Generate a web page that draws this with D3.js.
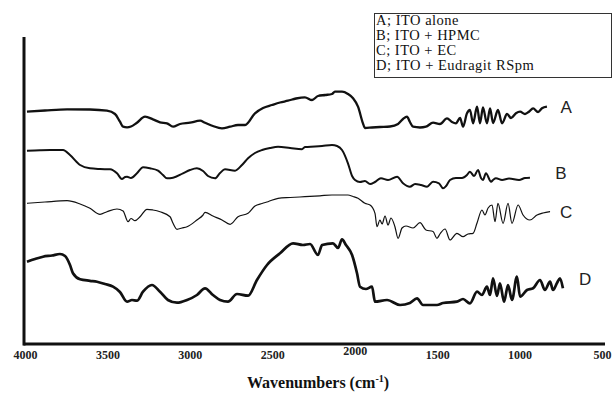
<!DOCTYPE html>
<html>
<head>
<meta charset="utf-8">
<script src="https://cdn.jsdelivr.net/npm/d3@7"></script>
<style>
  html, body { margin: 0; padding: 0; background: #fff; }
  svg { display: block; }
</style>
</head>
<body>
<div id="chart"></div>
<script>
// ---- data (wavenumber cm-1, transmittance in arbitrary units, traces stacked with offsets) ----
const xTicks = [4000, 3500, 3000, 2500, 2000, 1500, 1000, 500];
const seriesNames = ["A", "B", "C", "D"];
const legendLabels = ["A; ITO alone", "B; ITO + HPMC", "C; ITO + EC", "D; ITO + Eudragit RSpm"];
const xTitle = "Wavenumbers (cm";
const xTitleSup = "-1";

const specA = [
  [3988,232.3],[3879,233.5],[3745,234.7],[3606,234.5],[3503,233.3],[3454,230],[3424,222.3],[3405,217.3],
  [3381,216.7],[3357,217.5],[3321,221.3],[3272,227.3],[3224,224.7],[3181,221.7],[3139,220.7],[3102,217.3],
  [3060,220],[2999,221.3],[2938,223.3],[2908,221.3],[2860,218],[2805,215.7],[2756,217.3],[2708,219],
  [2665,219],[2605,230.7],[2556,236],[2502,239],[2453,241.5],[2405,243.3],[2356,245.5],[2302,246.7],
  [2259,244],[2223,248],[2180,249],[2138,250],[2120,252.3],[2077,252.3],[2041,250],[2010,245.7],
  [1980,237.3],[1950,220.7],[1938,216],[1895,216.5],[1847,217],[1786,217.5],[1737,220],[1707,225],
  [1683,227.3],[1665,222],[1646,217.3],[1604,216.5],[1568,217.3],[1525,221.3],[1483,220],[1440,225.7],
  [1410,222],[1386,220.7],[1361,226],[1343,217.3],[1319,230.7],[1301,234],[1282,220.7],[1258,237.3],
  [1240,220.7],[1222,236.5],[1198,220.7],[1179,235.7],[1161,221],[1131,234],[1106,220.7],[1076,230],
  [1052,226],[1022,230.7],[997,232.3],[967,230],[943,232.3],[918,235.7],[888,232],[864,235.7],[834,237.3]
];
const specB = [
  [3988,193.3],[3909,193.8],[3848,194],[3769,194],[3727,189],[3666,179],[3606,175.7],[3545,175],
  [3484,174.7],[3442,170.7],[3412,165],[3393,167],[3381,167.3],[3357,166],[3321,170.7],[3284,176.7],
  [3242,175.7],[3193,173.3],[3163,169],[3139,165.7],[3102,166.3],[3042,170.7],[2999,174],[2957,175.7],
  [2920,173],[2890,168],[2847,165.7],[2817,171],[2787,174.7],[2726,173.3],[2684,179],[2647,185.7],
  [2605,191],[2562,194],[2514,196],[2465,197.3],[2392,196],[2320,194.7],[2302,197],[2241,197.5],
  [2198,198],[2138,199],[2107,198],[2077,194],[2041,180.7],[2016,168],[1998,164],[1968,162],
  [1938,163],[1907,160],[1877,162],[1841,165.7],[1798,164],[1743,167.3],[1707,160.7],[1665,157.3],
  [1634,160],[1598,159],[1561,157.3],[1525,162.3],[1489,160.7],[1464,155.7],[1446,158],[1422,164],
  [1386,166],[1349,166],[1319,169],[1301,172.3],[1276,168],[1252,174],[1234,166],[1222,164],
  [1204,170.7],[1173,162.3],[1161,164],[1143,165.7],[1106,164],[1064,165.5],[1003,164],[967,166],[937,166.3]
];
const specC = [
  [3988,140.7],[3879,142],[3745,143.3],[3666,140],[3606,135.7],[3545,129.7],[3503,132.3],[3442,135],
  [3405,133],[3375,122.3],[3357,125.5],[3333,123.3],[3302,127.3],[3260,134.7],[3224,134],[3181,132.3],
  [3120,127.3],[3102,120.7],[3078,114.7],[3048,116],[3017,117.3],[2957,124],[2920,129],[2908,131.7],
  [2860,128],[2805,124],[2756,119.7],[2708,127.3],[2647,130.7],[2605,138],[2562,140.5],[2526,142.3],
  [2465,145.7],[2392,146.5],[2302,147.3],[2211,148.2],[2138,149],[2041,149],[2010,147.5],[1980,145.7],
  [1938,140.7],[1907,139],[1877,130.7],[1865,117.3],[1847,124],[1834,120],[1816,128],[1798,119],
  [1780,126],[1756,117.3],[1737,105.7],[1713,116],[1689,118],[1646,116],[1604,121.3],[1568,114],
  [1525,112.5],[1501,105.7],[1483,110],[1452,115],[1422,104],[1380,110.7],[1343,107.3],[1313,110],
  [1282,110.7],[1258,121],[1228,134],[1210,129],[1191,136],[1167,139],[1149,122.3],[1131,140.7],
  [1100,120.7],[1070,140.7],[1046,120.7],[1009,139],[979,129],[937,124],[894,129],[858,131],[815,132.3]
];
const specD = [
  [3988,82.3],[3939,85],[3891,87.3],[3836,88.5],[3788,90],[3757,88],[3727,79],[3709,70.7],
  [3666,64.7],[3606,63.2],[3563,62.3],[3515,60],[3466,57.3],[3424,52],[3381,42.3],[3351,44],
  [3321,43.3],[3284,52.3],[3230,59],[3181,52.3],[3133,44],[3078,41.3],[3017,44],[2957,49],
  [2908,55.7],[2860,49],[2817,44],[2769,42.3],[2714,50],[2647,48.3],[2593,64],[2532,79],
  [2453,90.7],[2374,100.7],[2314,99],[2271,100],[2223,89],[2198,99],[2132,100.7],[2101,96],
  [2077,104.7],[2053,99],[2016,89],[1986,70.7],[1968,57.3],[1932,55],[1895,57.3],[1877,42.3],
  [1804,44],[1725,39],[1665,41],[1622,45.7],[1586,39],[1501,39],[1464,41],[1380,42.3],
  [1343,45],[1301,40.7],[1258,52.3],[1228,49],[1198,57.3],[1179,49],[1161,65.7],[1137,48],
  [1119,60.7],[1094,42.3],[1070,59],[1046,44],[1016,67.3],[997,47.3],[955,54],[918,55.7],
  [876,64],[846,54],[815,62.3],[797,54],[773,61],[755,65.7],[737,55.7]
];
const spectra = [specA, specB, specC, specD];
// label anchor positions in data units (wavenumber, value)
const labelPos = [[718, 231], [749, 165], [718, 126], [603, 59]];

// ---- layout ----
const W = 614, H = 398;
const svg = d3.select("#chart").append("svg").attr("width", W).attr("height", H);

const x = d3.scaleLinear().domain([4000, 500]).range([25, 602]);
const y = d3.scaleLinear().domain([0, 307]).range([344, 37]);

// axes
const xAxis = d3.axisBottom(x).tickValues(xTicks).tickSize(0).tickPadding(6).tickFormat(d3.format("d"));
const gx = svg.append("g").attr("transform", `translate(0,${y(0)})`).call(xAxis);
gx.select(".domain").remove();
gx.selectAll("text")
  .attr("font-family", "'Liberation Serif', 'Times New Roman', serif")
  .attr("font-weight", "bold")
  .attr("font-size", 12)
  .attr("fill", "#222")
  .attr("dy", d => d === 2000 ? "0.45em" : "0.71em");

svg.append("line")
  .attr("x1", x(4000) - 1.5).attr("x2", x(500) + 3)
  .attr("y1", y(0)).attr("y2", y(0))
  .attr("stroke", "#111").attr("stroke-width", 3);
svg.append("line")
  .attr("x1", x(4000) - 1).attr("x2", x(4000) - 1)
  .attr("y1", y(307)).attr("y2", y(0) + 1.5)
  .attr("stroke", "#111").attr("stroke-width", 3);

// x title
const t = svg.append("text")
  .attr("x", 318).attr("y", 388)
  .attr("text-anchor", "middle")
  .attr("font-family", "'Liberation Serif', 'Times New Roman', serif")
  .attr("font-weight", "bold")
  .attr("font-size", 16)
  .attr("fill", "#111");
t.append("tspan").text(xTitle);
t.append("tspan").attr("font-size", 10).attr("dy", -6).text(xTitleSup);
t.append("tspan").attr("dy", 6).text(")");

// spectra
const widths = [2.3, 2.0, 1.2, 2.7];
const line = d3.line().curve(d3.curveMonotoneX).x(d => x(d[0])).y(d => y(d[1]));
svg.append("g").selectAll("path")
  .data(spectra)
  .join("path")
  .attr("d", line)
  .attr("fill", "none")
  .attr("stroke", "#111")
  .attr("stroke-width", (d, i) => widths[i])
  .attr("stroke-linejoin", "round");

// series letters
svg.append("g").selectAll("text")
  .data(seriesNames)
  .join("text")
  .attr("x", (d, i) => x(labelPos[i][0]))
  .attr("y", (d, i) => y(labelPos[i][1]))
  .attr("text-anchor", "middle")
  .attr("font-family", "'Liberation Sans', Arial, sans-serif")
  .attr("font-size", 17)
  .attr("fill", "#222")
  .text(d => d);

// legend box
const lg = svg.append("g");
lg.append("rect")
  .attr("x", 374.5).attr("y", 13.5).attr("width", 237).attr("height", 64)
  .attr("fill", "#fff").attr("stroke", "#333").attr("stroke-width", 1);
lg.selectAll("text")
  .data(legendLabels)
  .join("text")
  .attr("x", 376)
  .attr("y", (d, i) => 25 + i * 15)
  .attr("font-family", "'Liberation Serif', 'Times New Roman', serif")
  .attr("font-size", 14.5)
  .attr("letter-spacing", 0.5)
  .attr("fill", "#111")
  .text(d => d);
</script>
</body>
</html>
